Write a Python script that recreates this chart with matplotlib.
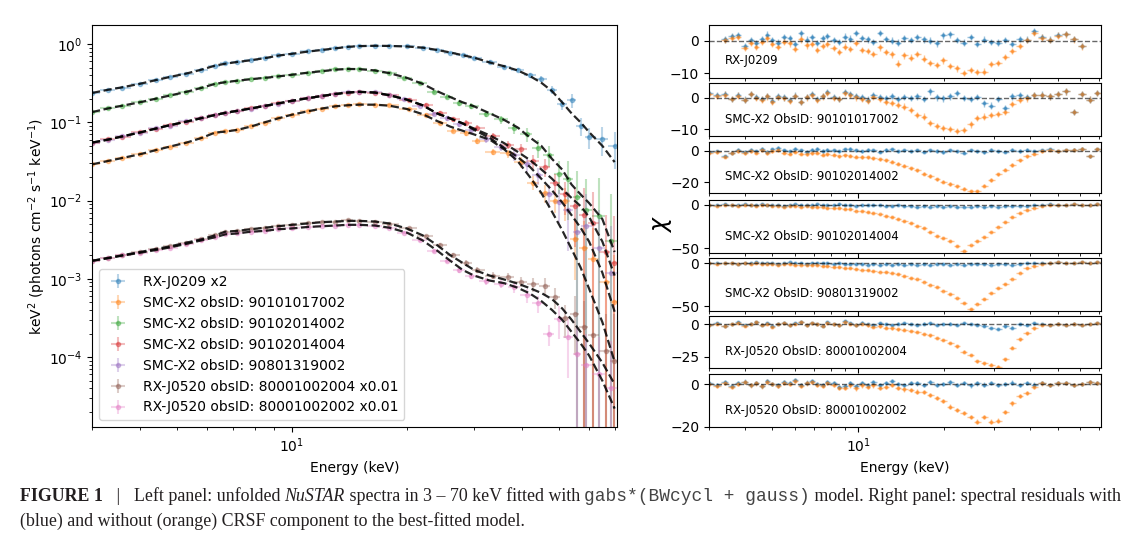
import numpy as np
import matplotlib
matplotlib.use("Agg")
import matplotlib.pyplot as plt
from matplotlib.ticker import NullFormatter, FixedLocator

nan = float("nan")

# ---------------- left panel: unfolded spectra ----------------
E_GRID = [3.0, 3.3, 3.6, 4.0, 4.4, 4.8, 5.3, 5.8, 6.3, 6.7,
          7.2, 7.8, 8.5, 9.2, 10, 11, 12, 13, 14, 15,
          16.5, 18, 20, 22, 24, 26, 28, 30, 33, 36,
          39, 42, 45, 48, 51, 54, 57, 60, 65, 70]
# energy bins of the data (binning differs slightly between observations)
E_DATA_A = [3.0, 3.3, 3.6, 4.0, 4.4, 4.8, 5.3, 5.8, 6.3, 6.7,
            7.2, 7.8, 8.5, 9.2, 10, 11, 12, 13, 14, 15,
            16.5, 18, 20.3, 22.4, 24.5, 26.5, 28.6, 30.6, 33.7, 36.7,
            39.8, 42.8, 45.9, 49.0, 52.0, 55.1, 58.2, 61.3, 66.3, 69.6]
E_DATA_B = [3.0, 3.3, 3.6, 4.0, 4.4, 4.8, 5.3, 5.8, 6.3, 6.7,
            7.2, 7.8, 8.5, 9.2, 10, 11, 12, 13, 14, 15,
            16.5, 18, 19.7, 21.6, 23.5, 25.5, 27.4, 29.4, 32.3, 35.3,
            38.2, 41.2, 44.1, 47.0, 50.0, 52.9, 55.8, 58.8, 63.7, 68.4]

LABELS = ["RX-J0209 x2",
          "SMC-X2 obsID: 90101017002",
          "SMC-X2 obsID: 90102014002",
          "SMC-X2 obsID: 90102014004",
          "SMC-X2 obsID: 90801319002",
          "RX-J0520 obsID: 80001002004 x0.01",
          "RX-J0520 obsID: 80001002002 x0.01"]

MODEL_RXJ0209 = [0.237, 0.26, 0.28, 0.31, 0.345, 0.38, 0.42, 0.47, 0.53, 0.56,
                 0.59, 0.62, 0.66, 0.71, 0.75, 0.80, 0.84, 0.88, 0.92, 0.94,
                 0.95, 0.945, 0.93, 0.90, 0.84, 0.78, 0.72, 0.67, 0.58, 0.52,
                 0.46, 0.39, 0.32, 0.25, 0.18, 0.13, 0.10, 0.075, 0.05, 0.031]
DATA_RXJ0209 = [0.235, 0.262, 0.278, 0.312, 0.343, 0.382, 0.418, 0.472, 0.528, 0.565,
                0.585, 0.625, 0.655, 0.715, 0.745, 0.805, 0.835, 0.885, 0.915, 0.945,
                0.948, 0.94, 0.935, 0.89, 0.845, 0.775, 0.73, 0.66, 0.59, 0.51,
                0.47, 0.40, 0.36, 0.26, 0.17, 0.19, 0.09, 0.065, 0.062, 0.050]

MODEL_17002 = [0.029, 0.032, 0.035, 0.039, 0.044, 0.049, 0.055, 0.063, 0.074, 0.076,
               0.080, 0.088, 0.100, 0.112, 0.125, 0.138, 0.150, 0.160, 0.165, 0.168,
               0.168, 0.163, 0.148, 0.127, 0.104, 0.088, 0.078, 0.070, 0.060, 0.045,
               0.032, 0.020, 0.0125, 0.0072, 0.0042, 0.0024, 0.0014, 0.00075, 0.00028, 0.000087]
DATA_17002 = [0.029, 0.032, 0.035, 0.039, 0.044, 0.049, 0.055, 0.063, 0.073, 0.077,
              0.080, 0.089, 0.099, 0.113, 0.124, 0.139, 0.149, 0.161, 0.164, 0.169,
              0.166, 0.165, 0.146, 0.125, 0.098, 0.078, 0.072, 0.058, 0.042, 0.04,
              0.031, 0.017, 0.0125, 0.010, 0.010, 0.0032, 0.0025, 0.0018, 0.0009, 0.0005]

MODEL_14002 = [0.135, 0.150, 0.163, 0.18, 0.20, 0.22, 0.245, 0.275, 0.31, 0.325,
               0.34, 0.355, 0.37, 0.385, 0.405, 0.43, 0.45, 0.47, 0.48, 0.478,
               0.46, 0.425, 0.37, 0.31, 0.25, 0.21, 0.18, 0.16, 0.13, 0.107,
               0.086, 0.064, 0.050, 0.034, 0.025, 0.016, 0.012, 0.0093, 0.0058, 0.0022]
DATA_14002 = [0.134, 0.151, 0.162, 0.181, 0.198, 0.222, 0.243, 0.277, 0.308, 0.327,
              0.338, 0.357, 0.368, 0.388, 0.402, 0.432, 0.447, 0.473, 0.478, 0.48,
              0.455, 0.428, 0.365, 0.315, 0.245, 0.212, 0.176, 0.163, 0.128, 0.109,
              0.084, 0.07, 0.047, 0.038, 0.022, 0.019, 0.011, 0.0075, 0.0064, 0.003]

MODEL_14004 = [0.055, 0.060, 0.066, 0.074, 0.083, 0.092, 0.102, 0.113, 0.124, 0.132,
               0.140, 0.150, 0.162, 0.174, 0.188, 0.203, 0.217, 0.230, 0.240, 0.245,
               0.240, 0.222, 0.195, 0.165, 0.13, 0.112, 0.097, 0.083, 0.068, 0.054,
               0.042, 0.033, 0.025, 0.019, 0.014, 0.0108, 0.0085, 0.0062, 0.0030, 0.0011]
DATA_14004 = [0.055, 0.061, 0.065, 0.075, 0.082, 0.093, 0.101, 0.114, 0.123, 0.133,
              0.139, 0.151, 0.161, 0.175, 0.187, 0.204, 0.216, 0.231, 0.239, 0.246,
              0.238, 0.224, 0.193, 0.167, 0.132, 0.11, 0.098, 0.084, 0.066, 0.052,
              0.046, 0.032, 0.027, 0.017, 0.012, 0.0085, 0.0065, 0.0052, 0.0022, 0.0016]

MODEL_19002 = [0.055, 0.060, 0.066, 0.074, 0.083, 0.092, 0.102, 0.113, 0.124, 0.132,
               0.140, 0.150, 0.162, 0.174, 0.188, 0.203, 0.217, 0.230, 0.240, 0.245,
               0.240, 0.222, 0.195, 0.165, 0.13, 0.112, 0.097, 0.080, 0.063, 0.047,
               0.036, 0.027, 0.019, 0.0135, 0.0095, 0.0065, 0.0045, 0.003, 0.0012, 0.00038]
DATA_19002 = [0.054, 0.060, 0.066, 0.073, 0.084, 0.091, 0.103, 0.112, 0.125, 0.131,
              0.141, 0.149, 0.163, 0.173, 0.189, 0.202, 0.218, 0.229, 0.241, 0.244,
              0.241, 0.221, 0.196, 0.163, 0.129, 0.113, 0.096, 0.079, 0.061, 0.049,
              0.038, 0.029, 0.021, 0.012, 0.0095, 0.0075, 0.004, 0.0048, 0.0025, 0.0012]

MODEL_02004 = [0.0017, 0.00185, 0.0020, 0.0022, 0.0024, 0.0026, 0.0029, 0.0032, 0.0036, 0.0040,
               0.0041, 0.0043, 0.0045, 0.0047, 0.0049, 0.0051, 0.0053, 0.0054, 0.0055, 0.0055,
               0.0054, 0.0051, 0.0044, 0.0036, 0.0027, 0.0020, 0.0016, 0.0013, 0.0011, 0.00098,
               0.00087, 0.00076, 0.00066, 0.00055, 0.00042, 0.00030, 0.00021, 0.00015, 0.000085, 0.000045]
DATA_02004 = [0.0017, 0.00186, 0.0020, 0.0022, 0.00242, 0.0026, 0.0029, 0.00322, 0.0036, 0.0040,
              0.0041, 0.0043, 0.00452, 0.0047, 0.0049, 0.0051, 0.0053, 0.0054, 0.0056, 0.0055,
              0.0054, 0.0050, 0.0044, 0.0035, 0.0027, 0.0020, 0.0016, 0.0013, 0.0011, 0.00105,
              0.00092, 0.00085, 0.00082, 0.00058, 0.00032, 0.00036, 0.00024, 0.00019, 0.00012, 0.00009]

MODEL_02002 = [0.0017, 0.00183, 0.00198, 0.00215, 0.00233, 0.00252, 0.0028, 0.0031, 0.0034, 0.0037,
               0.0038, 0.0040, 0.0041, 0.0043, 0.0044, 0.0046, 0.0047, 0.0048, 0.0049, 0.0049,
               0.0048, 0.0045, 0.0039, 0.0031, 0.0023, 0.0017, 0.0013, 0.00110, 0.00095, 0.00088,
               0.00077, 0.00065, 0.00052, 0.00040, 0.00030, 0.00021, 0.00015, 0.000105, 0.000050, 0.000022]
DATA_02002 = [0.0017, 0.00182, 0.00199, 0.00214, 0.00234, 0.0025, 0.0028, 0.0031, 0.0034, 0.0037,
              0.0038, 0.0040, 0.0041, 0.0043, 0.0044, 0.0046, 0.0047, 0.0048, 0.0049, 0.0049,
              0.0048, 0.0045, 0.0039, 0.0031, 0.0023, 0.0017, 0.0013, 0.0011, 0.00093, 0.00086,
              0.00078, 0.00062, 0.00049, 0.00020, 0.00031, 0.00018, 0.00011, 0.00008, 0.00006, 0.00004]

REL_ERR_BRIGHT = [0.02, 0.02, 0.02, 0.02, 0.02, 0.02, 0.02, 0.02, 0.02, 0.02,
                  0.02, 0.02, 0.02, 0.02, 0.02, 0.02, 0.02, 0.02, 0.02, 0.02,
                  0.02, 0.02, 0.025, 0.025, 0.03, 0.03, 0.035, 0.04, 0.045, 0.05,
                  0.06, 0.08, 0.1, 0.12, 0.15, 0.2, 0.25, 0.3, 0.4, 0.5]
REL_ERR_FAINT = [0.04, 0.03, 0.03, 0.03, 0.03, 0.03, 0.03, 0.03, 0.03, 0.03,
                 0.03, 0.03, 0.03, 0.03, 0.03, 0.03, 0.03, 0.03, 0.035, 0.035,
                 0.04, 0.04, 0.045, 0.05, 0.06, 0.07, 0.08, 0.09, 0.1, 0.12,
                 0.15, 0.2, 0.25, 0.3, 0.45, 0.7, 1.2, 1.5, 2.0, 3.0]

SPEC_E = [E_GRID, E_DATA_A, E_DATA_B, E_DATA_A, E_DATA_B, E_DATA_A, E_DATA_B]
SPEC_DATA = [DATA_RXJ0209, DATA_17002, DATA_14002, DATA_14004, DATA_19002, DATA_02004, DATA_02002]
SPEC_MODEL = [MODEL_RXJ0209, MODEL_17002, MODEL_14002, MODEL_14004, MODEL_19002, MODEL_02004, MODEL_02002]
SPEC_ERR = [REL_ERR_BRIGHT, REL_ERR_FAINT, REL_ERR_FAINT, REL_ERR_FAINT, REL_ERR_FAINT,
            REL_ERR_FAINT, REL_ERR_FAINT]

# ---------------- right panel: chi residuals ----------------
RES_E = [3.0, 3.2, 3.4, 3.6, 3.8, 4.0, 4.2, 4.4, 4.6, 4.8,
         5.0, 5.25, 5.5, 5.75, 6.0, 6.3, 6.6, 6.9, 7.2, 7.5,
         7.8, 8.2, 8.6, 9.0, 9.4, 9.8, 10.3, 10.8, 11.3, 11.9,
         12.5, 13.1, 13.8, 14.5, 15.3, 16.1, 17.0, 17.9, 18.9, 19.9,
         21.0, 22.2, 23.5, 24.8, 26.2, 27.7, 29.3, 31.0, 32.8, 34.7,
         36.8, 39.0, 41.5, 44.0, 47.0, 50.0, 53.5, 57.0, 61.0, 65.0,
         69.0]

RES_NAMES = ["RX-J0209", "SMC-X2 ObsID: 90101017002", "SMC-X2 ObsID: 90102014002",
             "SMC-X2 ObsID: 90102014004", "SMC-X2 ObsID: 90801319002",
             "RX-J0520 ObsID: 80001002004", "RX-J0520 ObsID: 80001002002"]

RES_WITH_1 = [nan, nan, 0.5, 1.5, 1.8, -1.5, 0.3, -0.8, 0.6, 1.9,
              0.2, -0.5, 1.2, 0.8, -1.0, 2.3, 0.4, 1.1, -0.6, 0.9,
              1.5, 0.2, -0.4, 1.3, 0.7, 2.5, 0.9, 0.5, -0.3, 2.4,
              0.6, 0.1, -0.5, 0.8, 0.3, 1.2, 0.5, 0.1, -0.8, 1.7,
              2.0, 0.3, -0.5, 1.2, -0.9, 0.4, -0.3, -0.5, 0.2, -1.0,
              0.6, 0.4, 2.9, 1.2, 0.4, 1.8, 2.2, 0.6, -1.5, nan,
              nan]
RES_WITHOUT_1 = [nan, nan, 0.3, 1.0, 1.2, -2.2, -0.5, -1.8, -0.3, 0.8,
                 -1.0, -1.9, -0.2, -0.8, -2.5, 0.5, -1.4, -0.9, -2.8, -1.5,
                 -1.0, -2.2, -3.4, -1.8, -2.5, -0.6, -2.8, -3.2, -4.0, -2.0,
                 -3.5, -4.2, -7.0, -4.5, -5.2, -4.0, -5.5, -6.8, -7.5, -6.0,
                 -7.8, -8.5, -9.9, -9.0, -9.6, -9.5, -7.2, -6.8, -5.0, -3.2,
                 -1.5, 0.2, 2.5, 1.0, 0.3, 1.6, 2.0, 0.5, -1.7, nan,
                 nan]

RES_WITH_2 = [1.5, 0.8, 1.2, -0.3, 0.9, -0.6, 1.3, 0.2, -0.4, 0.6,
              -1.0, 0.4, 0.1, -0.8, 0.7, -1.2, 0.3, 1.1, -0.5, 0.6,
              1.8, 0.2, -0.3, 1.9, 1.2, 0.5, 0.1, -0.6, 0.9, 0.3,
              -0.2, 0.5, -0.4, 0.2, 0.0, 0.4, -0.3, 2.0, 0.1, -0.2,
              0.4, 1.5, 0.0, -0.3, 0.3, -1.8, -2.5, -0.5, -3.2, 0.4,
              0.8, 0.2, 0.9, 1.0, 0.4, 1.3, 2.0, -4.5, 1.2, -0.6,
              1.5]
RES_WITHOUT_2 = [1.3, 0.6, 1.0, -0.5, 0.7, -0.8, 1.1, 0.0, -0.6, 0.4,
                 -1.2, 0.2, -0.1, -1.0, 0.5, -1.4, 0.1, 0.9, -0.7, 0.4,
                 1.6, 0.0, -0.5, 1.6, 0.8, 0.1, -0.4, -1.0, 0.3, -0.5,
                 -1.2, -1.6, -2.2, -2.8, -4.0, -5.5, -6.0, -8.0, -9.0, -9.6,
                 -10.0, -10.5, -10.3, -8.5, -6.5, -6.0, -5.5, -5.2, -4.5, -2.0,
                 -0.6, -0.2, 0.8, 0.9, 0.4, 1.3, 2.0, -4.5, 1.2, -0.6,
                 1.5]

RES_WITH_3 = [-1.0, -0.5, -3.5, -1.2, 0.4, -0.8, 0.6, -0.3, 1.2, -0.6,
              0.9, 1.8, 0.3, -0.4, 1.0, 0.2, -0.7, 0.5, 1.1, -0.2,
              0.6, 0.3, -0.5, 0.8, 1.3, 0.2, -0.4, 0.7, 0.1, -0.6,
              0.4, 0.9, -0.3, 0.2, -0.5, 0.3, -0.8, 0.1, -0.2, -0.9,
              0.3, -0.4, -1.2, 0.2, -0.5, -1.0, 0.4, -0.3, -0.8, 0.5,
              -0.2, 0.6, -0.4, 0.3, 0.8, -0.5, 0.2, 0.5, 1.0, -3.5,
              0.8]
RES_WITHOUT_3 = [-1.3, -0.9, -3.9, -1.7, -0.2, -1.5, -0.2, -1.2, 0.2, -1.7,
                 -0.3, 0.4, -1.2, -2.0, -0.8, -1.9, -2.2, -1.8, -1.4, -2.5,
                 -2.2, -2.6, -3.5, -3.0, -3.2, -3.8, -4.0, -4.2, -4.8, -5.5,
                 -6.2, -7.0, -8.2, -9.5, -11.0, -12.5, -14.5, -16.0, -18.0, -19.5,
                 -21.0, -22.5, -24.0, -25.5, -25.5, -22.0, -18.5, -15.0, -12.0, -9.0,
                 -6.0, -3.5, -2.0, -0.5, 0.5, -0.5, 0.2, 0.5, 1.0, -3.5,
                 0.8]

RES_WITH_4 = [0.5, -0.3, 0.8, 0.2, -0.5, 0.6, 0.1, -0.4, 0.9, 0.3,
              -0.2, 0.5, -0.6, 0.2, 0.7, -0.3, 0.4, -0.1, 0.6, 0.2,
              -0.5, 0.3, 0.8, -0.2, 0.1, -0.6, 0.4, 0.2, -0.3, 0.5,
              -0.8, -1.2, -0.5, -1.5, -0.9, -2.0, -1.2, -1.8, -1.0, -2.2,
              -1.5, -2.5, -1.8, -2.8, -1.5, -2.0, -1.2, -2.4, -1.0, -1.5,
              -0.6, -1.0, -0.5, 0.3, 0.8, 0.2, 0.5, 0.9, 0.4, -0.2,
              0.6]
RES_WITHOUT_4 = [0.2, -0.6, 0.5, -0.2, -0.9, 0.1, -0.4, -1.0, 0.2, -0.5,
                 -1.1, -0.6, -1.8, -1.2, -0.8, -2.0, -1.7, -2.4, -2.0, -2.8,
                 -3.6, -3.5, -3.6, -4.8, -5.0, -6.5, -7.0, -8.0, -9.5, -11.0,
                 -12.5, -14.0, -16.0, -18.5, -21.0, -24.0, -27.0, -31.0, -36.0, -38.0,
                 -42.0, -48.0, -53.0, -47.0, -42.0, -37.0, -31.0, -25.0, -20.0, -14.0,
                 -9.0, -6.0, -3.0, -1.0, 0.3, 0.2, 0.5, 0.9, 0.4, -0.2,
                 0.6]

RES_WITH_5 = [0.3, -0.4, 0.6, 0.1, -0.5, 0.4, -0.2, 0.7, 0.2, -0.3,
              0.5, -0.6, 0.3, 0.8, -0.2, 0.4, -0.5, 0.2, 0.6, -0.3,
              0.1, -0.8, -0.4, -1.2, -0.6, -1.5, -0.9, -1.8, -1.1, -2.0,
              -1.3, -2.2, -1.0, -2.5, -1.2, -1.8, -0.8, -2.0, -1.5, -0.9,
              -1.8, -1.2, -2.2, -1.0, -1.5, -0.8, -1.8, -0.6, -1.2, -2.5,
              -1.0, -0.4, 0.2, -0.3, 0.4, 0.8, 0.2, 0.5, 1.0, 0.4,
              0.7]
RES_WITHOUT_5 = [0.1, -0.7, 0.3, -0.3, -0.9, -0.2, -0.9, 0.0, -0.8, -1.3,
                 -0.8, -1.9, -1.2, -0.8, -2.0, -1.8, -2.5, -2.2, -2.4, -3.5,
                 -3.8, -4.2, -4.8, -5.5, -6.0, -6.8, -7.5, -8.2, -9.0, -9.8,
                 -10.5, -11.5, -13.0, -15.0, -17.0, -19.0, -21.5, -25.0, -28.0, -32.0,
                 -36.0, -41.0, -46.0, -53.0, -47.0, -42.0, -35.0, -29.0, -24.0, -18.0,
                 -11.0, -6.0, -3.0, -0.5, 0.4, 0.8, 0.2, 0.5, 1.0, 0.4,
                 0.7]

RES_WITH_6 = [-0.5, 0.8, -1.2, 0.3, 1.5, -0.8, 0.5, 1.8, -0.3, 0.9,
              -1.5, 0.6, 1.2, -0.4, 0.8, 2.0, -0.6, 1.0, 0.3, -1.0,
              1.6, 0.4, -0.5, 2.5, 0.7, -0.2, 1.4, 0.2, -0.6, 0.9,
              0.3, -0.4, 0.6, 1.1, 0.2, -0.3, 0.5, 0.8, -0.5, 0.3,
              0.6, -0.4, 0.9, 0.2, -0.3, -1.0, -2.8, -3.5, -1.5, -2.5,
              0.4, -0.5, 0.8, 0.3, -0.4, 0.6, -0.2, 0.5, -0.6, 0.3,
              1.0]
RES_WITHOUT_6 = [-0.8, 0.5, -1.5, 0.0, 1.2, -1.1, 0.2, 1.5, -0.6, 0.6,
                 -1.8, 0.3, 0.9, -0.7, 0.5, 1.7, -0.9, 0.7, 0.0, -1.3,
                 1.2, 0.0, -0.9, 2.0, 0.2, -0.8, 0.6, -0.8, -1.8, -1.5,
                 -2.6, -3.2, -3.8, -4.2, -5.0, -5.8, -7.5, -8.5, -10.5, -12.0,
                 -14.5, -17.0, -21.0, -23.5, -28.5, -30.0, -31.0, -32.5, -27.0, -18.0,
                 -11.5, -7.0, -3.0, -0.5, -0.4, 0.6, -0.2, 0.5, -0.6, 0.3,
                 1.0]

RES_WITH_7 = [0.3, -0.5, 0.8, -0.9, 0.5, 1.2, -0.3, 0.6, -0.8, 1.5,
              0.2, -0.6, 1.0, 0.4, 1.8, -0.4, 0.7, 1.3, 0.2, -0.5,
              0.9, 0.4, -1.2, -0.8, 0.3, -1.0, 0.5, -0.3, 0.8, -0.6,
              0.4, 1.6, 0.2, -0.4, 0.6, 0.3, -0.5, 0.9, -0.3, 0.2,
              0.8, -0.4, 0.5, -0.6, 0.3, -0.2, 0.6, -0.4, 0.2, 0.7,
              -0.3, 0.4, -0.2, 0.5, -0.5, 0.3, 0.6, -0.4, 0.2, 0.8,
              0.5]
RES_WITHOUT_7 = [0.1, -0.8, 0.5, -1.2, 0.2, 0.9, -0.6, 0.3, -1.1, 1.2,
                 -0.1, -0.9, 0.7, 0.1, 1.5, -0.7, 0.3, 0.9, -0.3, -1.0,
                 0.4, -0.2, -1.8, -1.6, -0.6, -2.0, -0.6, -1.5, -0.6, -1.8,
                 -1.2, -0.5, -1.8, -2.5, -2.8, -3.5, -3.8, -5.0, -6.5, -8.0,
                 -10.5, -12.0, -13.5, -15.5, -17.5, -15.5, -17.5, -17.0, -13.0, -9.0,
                 -5.5, -4.0, -1.5, 0.3, -0.5, 0.3, 0.6, -0.4, 0.2, 0.8,
                 0.5]

RES_WITH = [RES_WITH_1, RES_WITH_2, RES_WITH_3, RES_WITH_4, RES_WITH_5, RES_WITH_6, RES_WITH_7]
RES_WITHOUT = [RES_WITHOUT_1, RES_WITHOUT_2, RES_WITHOUT_3, RES_WITHOUT_4, RES_WITHOUT_5,
               RES_WITHOUT_6, RES_WITHOUT_7]
RES_YLIM = [(-11.3, 4.9), (-12.2, 4.7), (-27, 5.75), (-55.8, 5.8), (-55.1, 5.9), (-33.2, 6.4), (-20, 4.7)]
RES_YTICKS = [[-10, 0], [-10, 0], [-20, 0], [-50, 0], [-50, 0], [-25, 0], [-20, 0]]

# ---------------- drawing ----------------
W, H = 1137, 556
fig = plt.figure(figsize=(W / 100, H / 100), dpi=100)


def ax_px(x0, y0, x1, y1):
    return fig.add_axes([x0 / W, 1 - y1 / H, (x1 - x0) / W, (y1 - y0) / H])


def bin_halfwidths(e):
    e = np.asarray(e, float)
    mids = np.sqrt(e[:-1] * e[1:])
    lo = np.r_[e[0] ** 2 / mids[0], mids]
    hi = np.r_[mids, e[-1] ** 2 / mids[-1]]
    return np.vstack([e - lo, hi - e])


XLIM = (3.0, 71.0)

ax = ax_px(92, 25, 617, 427)
ax.set_xscale("log")
ax.set_yscale("log")
for i, (lab, e, d, r) in enumerate(zip(LABELS, SPEC_E, SPEC_DATA, SPEC_ERR)):
    e = np.asarray(e)
    d = np.asarray(d)
    cont = ax.errorbar(e, d, yerr=d * np.asarray(r), xerr=bin_halfwidths(e), fmt=".", ms=6,
                       color=f"C{i}", alpha=0.4, elinewidth=1.5, label=lab, zorder=2)
    for bl in cont[2]:
        bl.set_alpha(0.3)
for m in SPEC_MODEL:
    ax.plot(E_GRID, m, ls="--", color="k", lw=1.6, alpha=0.85, zorder=3)
ax.set_xlim(*XLIM)
ax.set_ylim(1.28e-5, 1.75)
ax.xaxis.set_minor_formatter(NullFormatter())
ax.tick_params(labelsize=10)
ax.set_xlabel("Energy (keV)", fontsize=10)
ax.set_ylabel(r"keV$^2$ (photons cm$^{-2}$ s$^{-1}$ keV$^{-1}$)", fontsize=10)
ax.yaxis.set_label_coords(-0.084, 0.5)
ax.legend(loc="lower left", fontsize=10, framealpha=0.8)

PANELS_PX = [(25, 77.5), (83, 136), (141.5, 193.5), (200, 253), (258, 310.5), (316, 367.5), (374, 427)]
rxe = bin_halfwidths(RES_E)
for k, (top, bot) in enumerate(PANELS_PX):
    a = ax_px(709, top, 1101, bot)
    a.set_xscale("log")
    a.errorbar(RES_E, RES_WITH[k], yerr=1.0, xerr=rxe, fmt=".", ms=4, color="C0",
               alpha=0.45, elinewidth=1, zorder=2)
    a.errorbar(RES_E, RES_WITHOUT[k], yerr=1.0, xerr=rxe, fmt=".", ms=4, color="C1",
               alpha=0.45, elinewidth=1, zorder=2)
    a.axhline(0, ls="--", color="k", lw=1, alpha=0.6, zorder=3)
    a.set_xlim(*XLIM)
    a.set_ylim(*RES_YLIM[k])
    a.yaxis.set_major_locator(FixedLocator(RES_YTICKS[k]))
    a.xaxis.set_minor_formatter(NullFormatter())
    a.tick_params(labelsize=10)
    a.text(0.04, 0.32, RES_NAMES[k], transform=a.transAxes, fontsize=8.5, va="center", ha="left")
    if k < len(PANELS_PX) - 1:
        a.tick_params(labelbottom=False)
    else:
        a.set_xlabel("Energy (keV)", fontsize=10)

fig.text(662 / W, 1 - 224 / H, r"$\chi$", fontsize=17, rotation=90, ha="center", va="center")

# ---------------- caption ----------------
CAP_COLOR = "#231f20"
SERIF = "Liberation Serif"
MONO = "Liberation Mono"
line1 = [("FIGURE 1", dict(family=SERIF, weight="bold")),
         ("   |   ", dict(family=SERIF)),
         ("Left panel: unfolded ", dict(family=SERIF)),
         ("NuSTAR", dict(family=SERIF, style="italic")),
         (" spectra in 3 \u2013 70 keV fitted with ", dict(family=SERIF)),
         ("gabs*(BWcycl + gauss)", dict(family=MONO, color="#444444")),
         (" model. Right panel: spectral residuals with", dict(family=SERIF))]
line2 = [("(blue) and without (orange) CRSF component to the best-fitted model.", dict(family=SERIF))]

renderer = fig.canvas.get_renderer()


def run_width(runs, size):
    total = 0.0
    for s, kw in runs:
        t = fig.text(0, 0, s, fontsize=size, **kw)
        total += t.get_window_extent(renderer).width
        t.remove()
    return total


def draw_runs(runs, x0, ybase, size):
    x = x0
    for s, kw in runs:
        kw = dict(kw)
        col = kw.pop("color", CAP_COLOR)
        t = fig.text(x / W, 1 - ybase / H, s, fontsize=size, va="baseline", ha="left",
                     color=col, **kw)
        x += t.get_window_extent(renderer).width


cap_size = 11.0 * 1098.0 / run_width(line1, 11.0)
draw_runs(line1, 20, 501, cap_size)
draw_runs(line2, 20, 526, cap_size)

fig.savefig("out.png", dpi=100)
